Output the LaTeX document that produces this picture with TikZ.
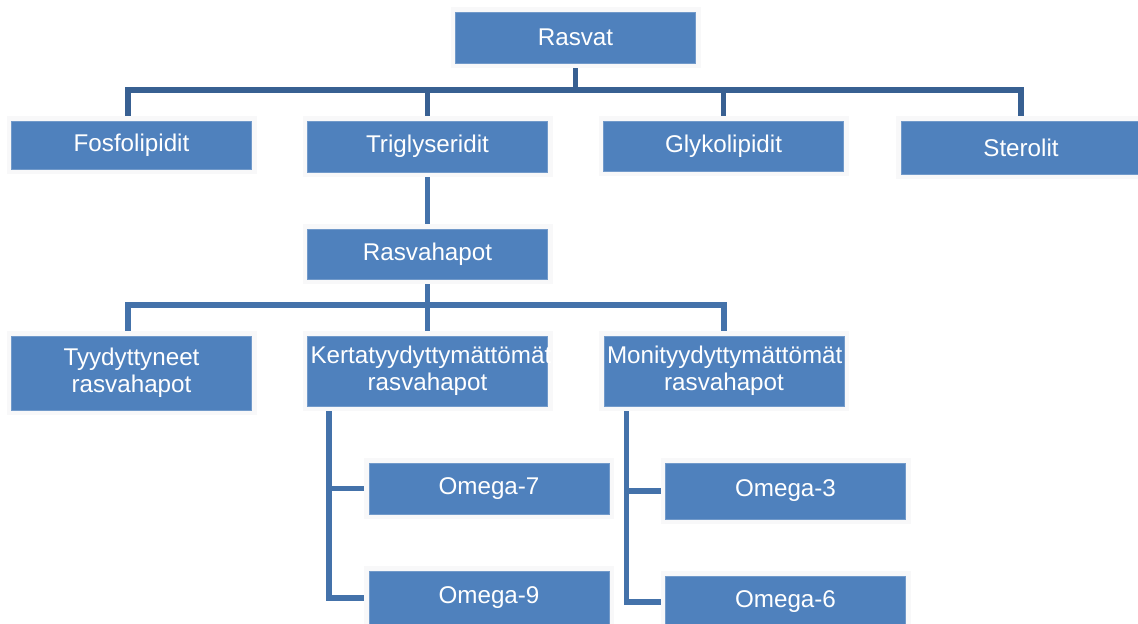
\documentclass[tikz,border=0pt]{standalone}
\usepackage{fontspec}
\setmainfont{Liberation Sans}
\usetikzlibrary{positioning,backgrounds}
\definecolor{fatblue}{RGB}{79,129,189}
\definecolor{linedark}{RGB}{56,96,146}
\definecolor{linemid}{RGB}{68,114,170}
\definecolor{glow}{RGB}{248,248,249}

\tikzset{
  fatbox/.style={fill=fatblue,draw=fatblue!80!white,line width=0.5pt,text=white,
    preaction={draw=glow,line width=5pt},
    minimum width=120pt,minimum height=#1,text width=117pt,align=center,
    inner xsep=1.5pt,inner ysep=0pt,font=\fontsize{12.1}{13.6}\selectfont},
  fatbox/.default=25pt,
  link/.style={linemid,line width=2.75pt},
  toplink/.style={link,linedark}
}

\begin{document}
\begin{tikzpicture}[x=0.5pt,y=-0.5pt]
  \useasboundingbox (0,0) rectangle (1138,623);
  % top level
  \node[fatbox=25.5pt] (rasvat) at (575.5,37.5) {Rasvat};
  \node[fatbox=24pt] (fosfo) at (131.5,145) {Fosfolipidit};
  \node[fatbox=25.5pt] (trigly) at (427.5,146.5) {Triglyseridit};
  \node[fatbox=25pt] (glyko) at (723.5,146) {Glykolipidit};
  \node[fatbox=26.5pt] (sterol) at (1021,147.5) {Sterolit};
  % fatty acids
  \node[fatbox=25pt] (hapot) at (427.5,254) {Rasvahapot};
  \node[fatbox=37pt] (tyyd) at (131.5,373) {Tyydyttyneet\\rasvahapot};
  \node[fatbox=35pt] (kerta) at (427.5,371) {Kertatyydyttymättömät\\rasvahapot};
  \node[fatbox=35pt] (moni) at (724,371) {Monityydyttymättömät\\rasvahapot};
  % omegas
  \node[fatbox=25.5pt] (om7) at (489,488.5) {Omega-7};
  \node[fatbox=27pt] (om9) at (489,598) {Omega-9};
  \node[fatbox=28pt] (om3) at (785.5,491) {Omega-3};
  \node[fatbox=26pt] (om6) at (785.5,602) {Omega-6};

  \begin{scope}[on background layer]
    \coordinate (top) at (575.5,90);
    \draw[toplink] (rasvat.south) -- (top);
    \draw[toplink] ([xshift=-1.75pt]fosfo.north) |- (top) -| (sterol.north);
    \draw[toplink] (trigly.north) -- (trigly.north |- top);
    \draw[toplink] (glyko.north) -- (glyko.north |- top);

    \coordinate (mid) at (427.5,305);
    \draw[link] (trigly.south) -- (hapot.north);
    \draw[link] (hapot.south) -- (mid);
    \draw[link] ([xshift=-1.75pt]tyyd.north) |- (mid) -| (moni.north);
    \draw[link] (kerta.north) -- (kerta.north |- mid);

    \draw[link] ([xshift=11pt]kerta.south west) |- (om9.west);
    \draw[link] ([xshift=11pt]kerta.south west) |- (om7.west);
    \draw[link] ([xshift=11.5pt]moni.south west) |- (om6.west);
    \draw[link] ([xshift=11.5pt]moni.south west) |- (om3.west);
  \end{scope}
\end{tikzpicture}
\end{document}
